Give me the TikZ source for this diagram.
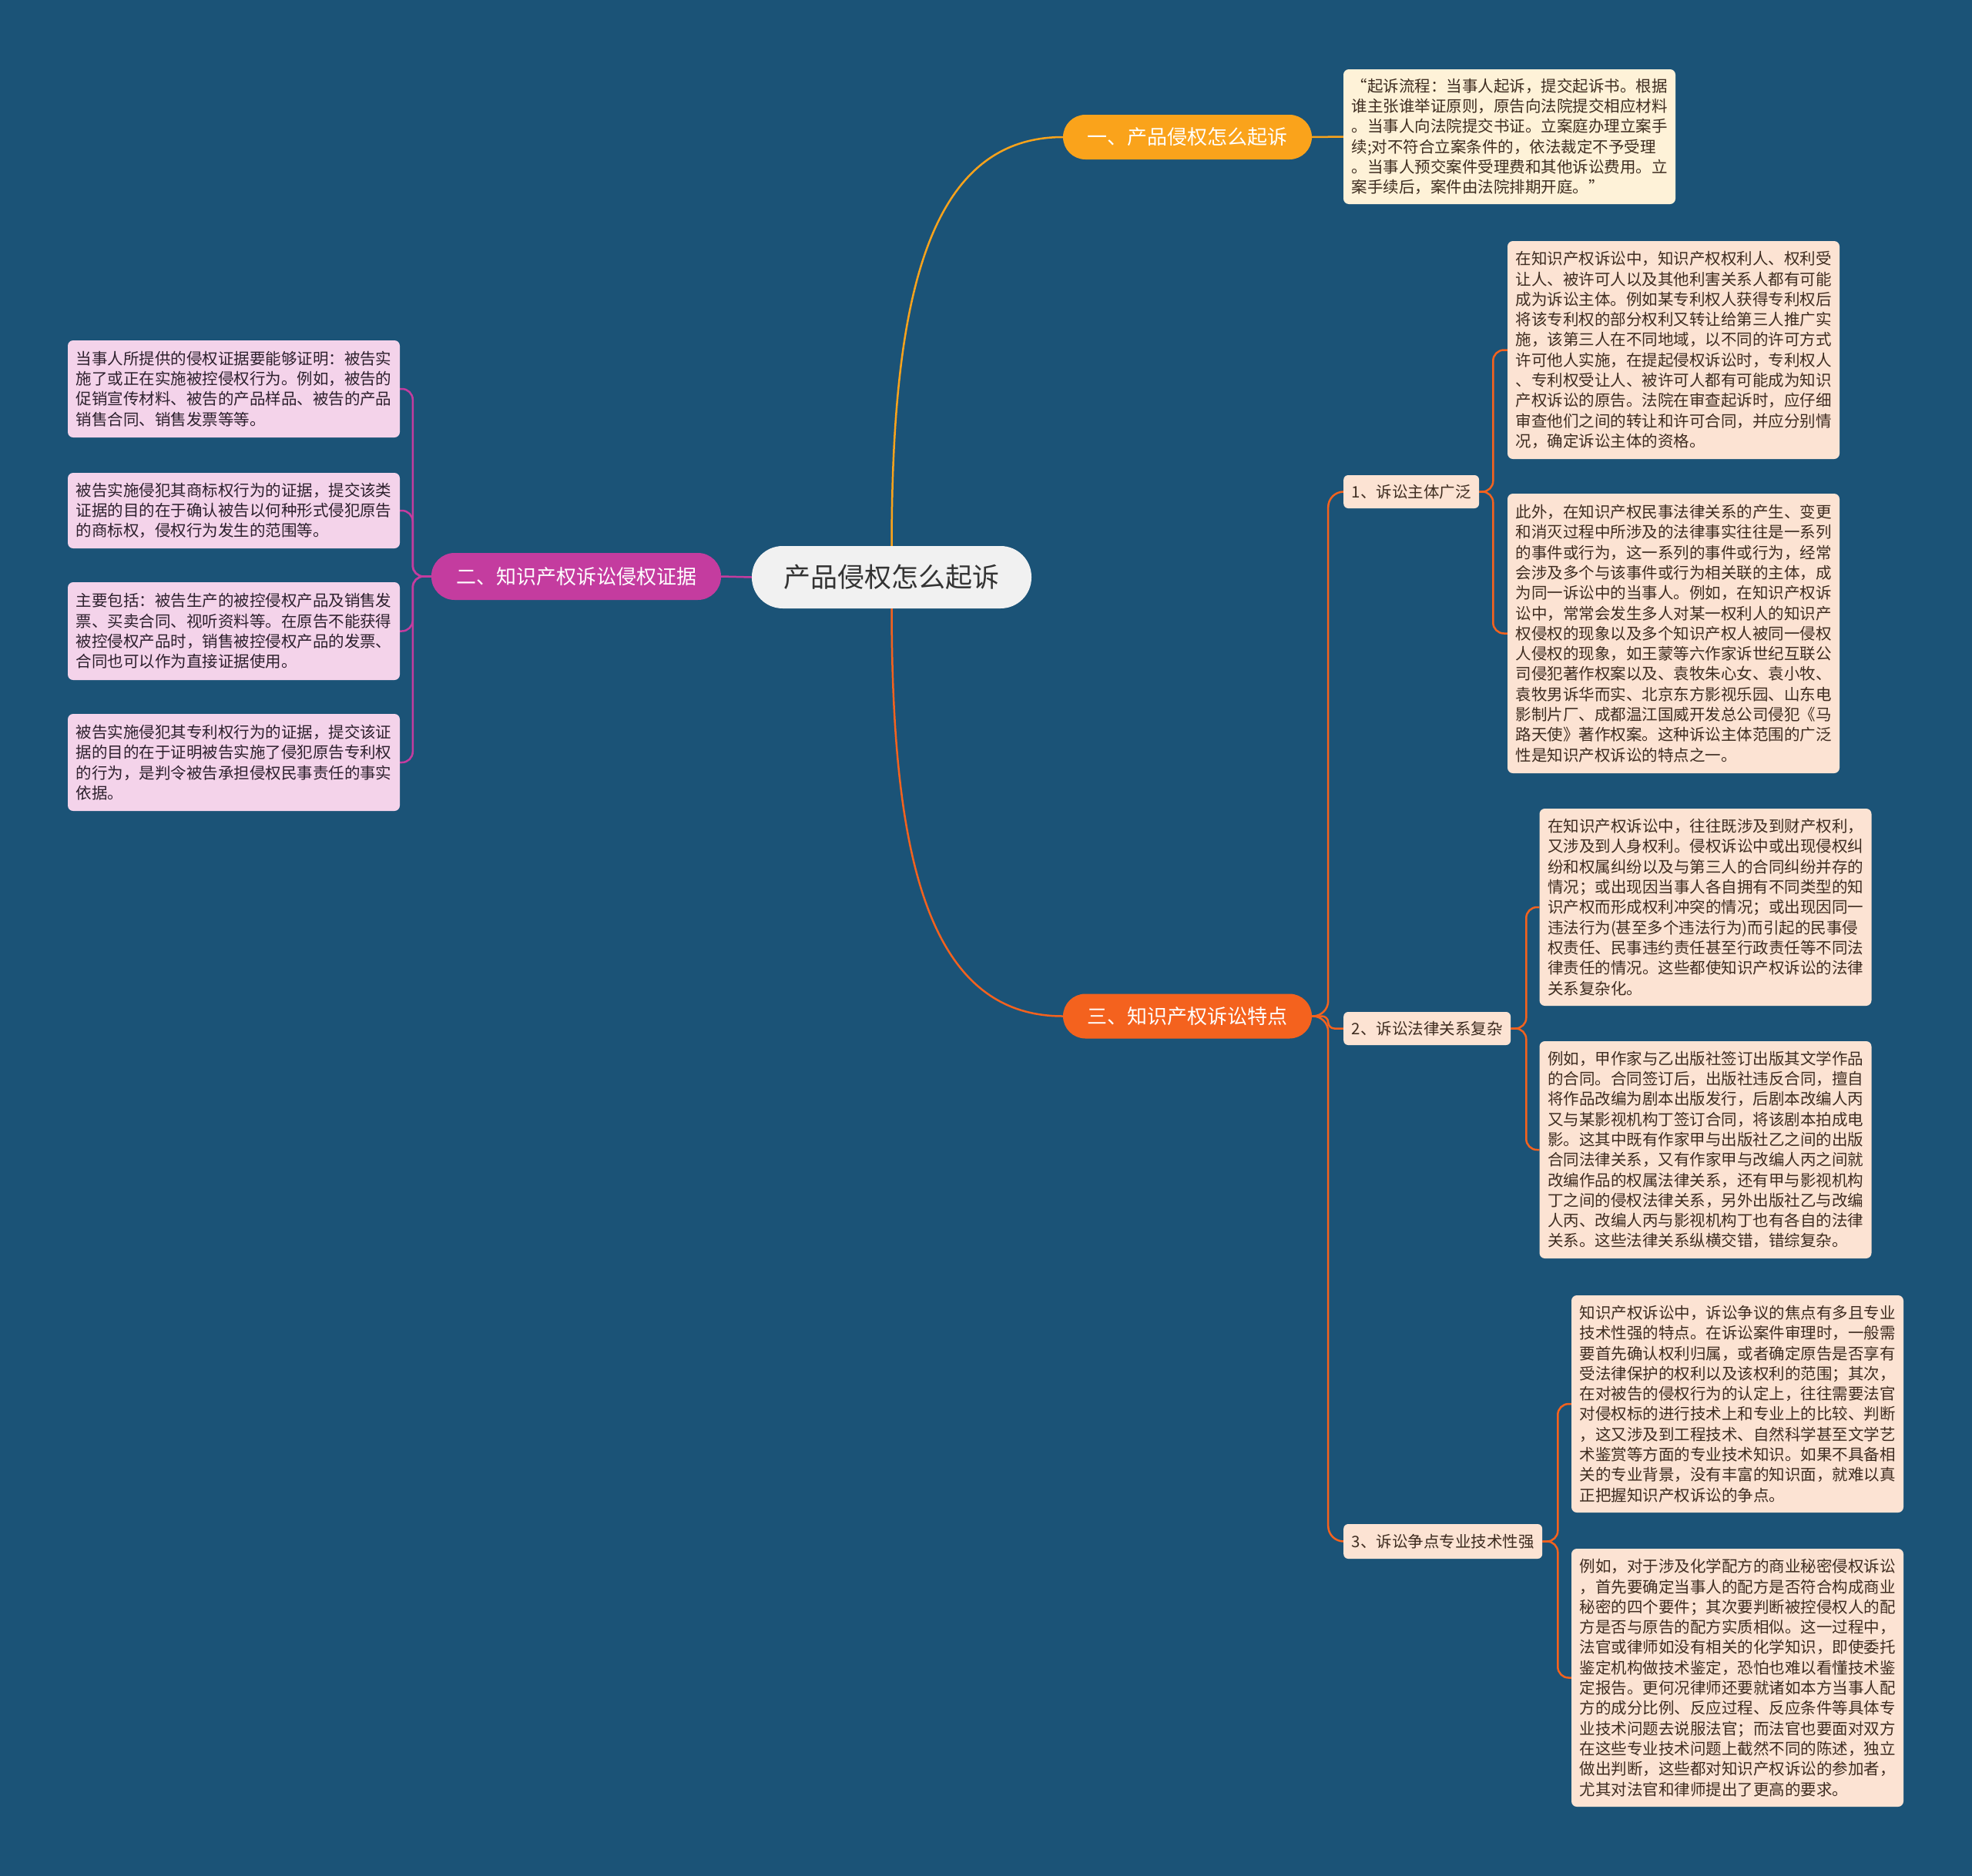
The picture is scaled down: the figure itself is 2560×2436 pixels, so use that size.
\documentclass[tikz,border=0pt]{standalone}
\usepackage{fontspec}
\setmainfont{Noto Sans CJK SC}
\usetikzlibrary{backgrounds}
\definecolor{bgc}{RGB}{27,83,119}
\definecolor{ora}{RGB}{250,163,27}
\definecolor{red3}{RGB}{244,98,30}
\definecolor{mag}{RGB}{196,60,159}
\definecolor{cream}{RGB}{254,242,216}
\definecolor{peach}{RGB}{252,227,211}
\definecolor{pink}{RGB}{244,211,234}
\definecolor{ctr}{RGB}{241,241,241}
\definecolor{txtd}{RGB}{62,44,32}
\definecolor{txtp}{RGB}{45,32,45}
\tikzset{
  leaf/.style={rounded corners=7pt, align=left, minimum width=431pt, inner xsep=9pt, inner ysep=0pt,
    font=\fontsize{20.5pt}{26.3pt}\selectfont, text=txtd},
  leafc/.style={leaf, fill=cream},
  leafp/.style={leaf, fill=peach},
  leafm/.style={leaf, fill=pink, text=txtp},
  branch/.style={rounded corners=29pt, minimum height=58pt, text=white, font=\fontsize{26pt}{30pt}\selectfont},
  subn/.style={rounded corners=6pt, fill=peach, minimum height=43pt, anchor=west, inner xsep=10.5pt,
    font=\fontsize{20.5pt}{24pt}\selectfont, text=txtd},
  conO/.style={draw=ora, line width=2.5pt},
  conR/.style={draw=red3, line width=2.5pt},
  conM/.style={draw=mag, line width=2.5pt},
}
\begin{document}
\begin{tikzpicture}[x=1pt,y=-1pt]
\useasboundingbox (0,0) rectangle (2560,2436);

% center
\node[fill=ctr, rounded corners=40pt, minimum width=363pt, minimum height=81pt, text={rgb,255:red,51;green,51;blue,51},
  font=\fontsize{35pt}{40pt}\selectfont] (c) at (1157.5,749.5) {产品侵权怎么起诉};

% branches
\node[branch, fill=ora, minimum width=323pt] (b1) at (1541.5,178) {一、产品侵权怎么起诉};
\node[branch, fill=red3, minimum width=323pt] (b3) at (1541.5,1319.5) {三、知识产权诉讼特点};
\node[branch, fill=mag, minimum width=376pt, minimum height=61pt, rounded corners=30pt] (b2) at (748,748.5) {二、知识产权诉讼侵权证据};

% branch 1 leaf
\node[leafc, minimum height=175pt] (l1) at (1959.5,177.5) {“起诉流程：当事人起诉，提交起诉书。根据\\谁主张谁举证原则，原告向法院提交相应材料\\。当事人向法院提交书证。立案庭办理立案手\\续;对不符合立案条件的，依法裁定不予受理\\。当事人预交案件受理费和其他诉讼费用。立\\案手续后，案件由法院排期开庭。”};

% branch 3 subs
\node[subn] (s1) at (1744,638.5) {1、诉讼主体广泛};
\node[subn] (s2) at (1744,1335.5) {2、诉讼法律关系复杂};
\node[subn, minimum height=45pt] (s3) at (1744,2001.5) {3、诉讼争点专业技术性强};

\node[leafp, minimum height=283pt] (l2) at (2172.5,454.5) {在知识产权诉讼中，知识产权权利人、权利受\\让人、被许可人以及其他利害关系人都有可能\\成为诉讼主体。例如某专利权人获得专利权后\\将该专利权的部分权利又转让给第三人推广实\\施，该第三人在不同地域，以不同的许可方式\\许可他人实施，在提起侵权诉讼时，专利权人\\、专利权受让人、被许可人都有可能成为知识\\产权诉讼的原告。法院在审查起诉时，应仔细\\审查他们之间的转让和许可合同，并应分别情\\况，确定诉讼主体的资格。};

\node[leafp, minimum height=363pt] (l3) at (2172.5,822.5) {此外，在知识产权民事法律关系的产生、变更\\和消灭过程中所涉及的法律事实往往是一系列\\的事件或行为，这一系列的事件或行为，经常\\会涉及多个与该事件或行为相关联的主体，成\\为同一诉讼中的当事人。例如，在知识产权诉\\讼中，常常会发生多人对某一权利人的知识产\\权侵权的现象以及多个知识产权人被同一侵权\\人侵权的现象，如王蒙等六作家诉世纪互联公\\司侵犯著作权案以及、袁牧朱心女、袁小牧、\\袁牧男诉华而实、北京东方影视乐园、山东电\\影制片厂、成都温江国威开发总公司侵犯《马\\路天使》著作权案。这种诉讼主体范围的广泛\\性是知识产权诉讼的特点之一。};

\node[leafp, minimum height=256pt] (l4) at (2214,1178) {在知识产权诉讼中，往往既涉及到财产权利，\\又涉及到人身权利。侵权诉讼中或出现侵权纠\\纷和权属纠纷以及与第三人的合同纠纷并存的\\情况；或出现因当事人各自拥有不同类型的知\\识产权而形成权利冲突的情况；或出现因同一\\违法行为(甚至多个违法行为)而引起的民事侵\\权责任、民事违约责任甚至行政责任等不同法\\律责任的情况。这些都使知识产权诉讼的法律\\关系复杂化。};

\node[leafp, minimum height=282pt] (l5) at (2214,1493) {例如，甲作家与乙出版社签订出版其文学作品\\的合同。合同签订后，出版社违反合同，擅自\\将作品改编为剧本出版发行，后剧本改编人丙\\又与某影视机构丁签订合同，将该剧本拍成电\\影。这其中既有作家甲与出版社乙之间的出版\\合同法律关系，又有作家甲与改编人丙之间就\\改编作品的权属法律关系，还有甲与影视机构\\丁之间的侵权法律关系，另外出版社乙与改编\\人丙、改编人丙与影视机构丁也有各自的法律\\关系。这些法律关系纵横交错，错综复杂。};

\node[leafp, minimum height=282pt] (l6) at (2255.5,1823) {知识产权诉讼中，诉讼争议的焦点有多且专业\\技术性强的特点。在诉讼案件审理时，一般需\\要首先确认权利归属，或者确定原告是否享有\\受法律保护的权利以及该权利的范围；其次，\\在对被告的侵权行为的认定上，往往需要法官\\对侵权标的进行技术上和专业上的比较、判断\\，这又涉及到工程技术、自然科学甚至文学艺\\术鉴赏等方面的专业技术知识。如果不具备相\\关的专业背景，没有丰富的知识面，就难以真\\正把握知识产权诉讼的争点。};

\node[leafp, minimum height=335pt] (l7) at (2255.5,2178.5) {例如，对于涉及化学配方的商业秘密侵权诉讼\\，首先要确定当事人的配方是否符合构成商业\\秘密的四个要件；其次要判断被控侵权人的配\\方是否与原告的配方实质相似。这一过程中，\\法官或律师如没有相关的化学知识，即使委托\\鉴定机构做技术鉴定，恐怕也难以看懂技术鉴\\定报告。更何况律师还要就诸如本方当事人配\\方的成分比例、反应过程、反应条件等具体专\\业技术问题去说服法官；而法官也要面对双方\\在这些专业技术问题上截然不同的陈述，独立\\做出判断，这些都对知识产权诉讼的参加者，\\尤其对法官和律师提出了更高的要求。};

% branch 2 leaves
\node[leafm, minimum height=126pt] (l8) at (303.5,505) {当事人所提供的侵权证据要能够证明：被告实\\施了或正在实施被控侵权行为。例如，被告的\\促销宣传材料、被告的产品样品、被告的产品\\销售合同、销售发票等等。};
\node[leafm, minimum height=98pt] (l9) at (303.5,663) {被告实施侵犯其商标权行为的证据，提交该类\\证据的目的在于确认被告以何种形式侵犯原告\\的商标权，侵权行为发生的范围等。};
\node[leafm, minimum height=127pt] (l10) at (303.5,819.5) {主要包括：被告生产的被控侵权产品及销售发\\票、买卖合同、视听资料等。在原告不能获得\\被控侵权产品时，销售被控侵权产品的发票、\\合同也可以作为直接证据使用。};
\node[leafm, minimum height=126pt] (l11) at (303.5,990) {被告实施侵犯其专利权行为的证据，提交该证\\据的目的在于证明被告实施了侵犯原告专利权\\的行为，是判令被告承担侵权民事责任的事实\\依据。};

\begin{scope}[on background layer]
\fill[bgc] (0,0) rectangle (2560,2436);
% center to branches
\draw[conO] (c.north) .. controls (1158,400) and (1200,178) .. (b1.west);
\draw[conR] (c.south) .. controls (1158,1100) and (1200,1319.5) .. (b3.west);
\draw[conM] (c.west) -- (b2.east);
% branch 1
\draw[conO] (b1.east) -- (l1.west);
% branch 3 spine
\draw[conR, rounded corners=20pt] (b3.east) -- ++(21,0) |- (s1.west);
\draw[conR, rounded corners=20pt] (b3.east) -- ++(21,0) |- (s3.west);
\draw[conR, rounded corners=8pt] (b3.east) -- ++(21,0) |- (s2.west);
% sub brackets
\draw[conR, rounded corners=14pt] (s1.east) -- ++(18,0) |- (l2.west);
\draw[conR, rounded corners=14pt] (s1.east) -- ++(18,0) |- (l3.west);
\draw[conR, rounded corners=14pt] (s2.east) -- ++(20,0) |- (l4.west);
\draw[conR, rounded corners=14pt] (s2.east) -- ++(20,0) |- (l5.west);
\draw[conR, rounded corners=14pt] (s3.east) -- ++(20,0) |- (l6.west);
\draw[conR, rounded corners=14pt] (s3.east) -- ++(20,0) |- (l7.west);
% branch 2 bracket
\draw[conM, rounded corners=14pt] (b2.west) -- ++(-24,0) |- (l8.east);
\draw[conM, rounded corners=14pt] (b2.west) -- ++(-24,0) |- (l9.east);
\draw[conM, rounded corners=14pt] (b2.west) -- ++(-24,0) |- (l10.east);
\draw[conM, rounded corners=14pt] (b2.west) -- ++(-24,0) |- (l11.east);
\end{scope}
\end{tikzpicture}
\end{document}
